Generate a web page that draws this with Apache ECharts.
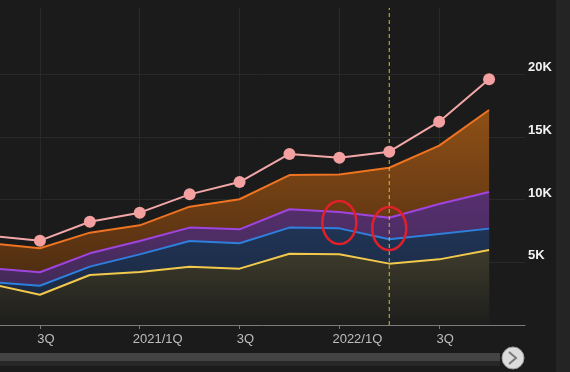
<!DOCTYPE html>
<html>
<head>
<meta charset="utf-8">
<script src="https://cdn.jsdelivr.net/npm/echarts@6/dist/echarts.min.js"></script>
<style>
html,body{margin:0;padding:0;background:#1b1b1b;}
#c{width:570px;height:372px;}
</style>
</head>
<body>
<div id="c"></div>
<script>
// quarters (index positions on the x axis)
const quarters = ['2020/2Q','2020/3Q','2020/4Q','2021/1Q','2021/2Q','2021/3Q','2021/4Q','2022/1Q','2022/2Q','2022/3Q','2022/4Q'];
// quarters that carry a tick label
const tickQuarters = ['2020/3Q','2021/1Q','2021/3Q','2022/1Q','2022/3Q'];
// cumulative tops of the stacked bands
const yellowTop = [3280, 2410, 3985, 4220, 4650, 4490, 5680, 5630, 4890, 5230, 5980];
const blueTop   = [3430, 3130, 4650, 5630, 6690, 6510, 7760, 7700, 6830, 7250, 7680];
const purpleTop = [4530, 4200, 5710, 6690, 7760, 7620, 9220, 9000, 8550, 9640, 10600];
const orangeTop = [6510, 6110, 7360, 7940, 9430, 10020, 11950, 12000, 12530, 14290, 17130];
// separate line with markers
const pinkLine  = [7120, 6720, 8230, 8950, 10410, 11390, 13630, 13330, 13810, 16200, 19580];
// y axis range and tick labels
const yMin = 0, yMax = 25260;
const yTickValues = [5000, 10000, 15000, 20000];
const yTickLabels = ['5K', '10K', '15K', '20K'];
// highlighted quarter (dashed line) and annotation circles
const markQuarter = '2022/2Q';
const annotQuarters = ['2022/1Q', '2022/2Q'];
const annotValues = [8170, 7690];

const chart = echarts.init(document.getElementById('c'), null, {renderer: 'canvas'});

const toPairs = arr => arr.map((v, i) => [i, v]);
const tickIdx = tickQuarters.map(q => quarters.indexOf(q));
const markIdx = quarters.indexOf(markQuarter);
const FONT = 'Liberation Sans, Arial, sans-serif';

function grad(stops) {
  return new echarts.graphic.LinearGradient(0, 0, 0, 1,
    stops.map(s => ({offset: s[0], color: s[1]})));
}

function areaSeries(name, data, lineColor, stops, z) {
  return {
    name: name,
    type: 'line',
    data: toPairs(data),
    symbol: 'none',
    showSymbol: false,
    lineStyle: {color: lineColor, width: 2},
    itemStyle: {color: lineColor},
    areaStyle: {color: grad(stops), opacity: 1},
    silent: true,
    z: z
  };
}

const option = {
  backgroundColor: '#1b1b1b',
  animation: false,
  grid: {left: 0, right: 45, top: 8, bottom: 47, containLabel: false},
  xAxis: {
    type: 'value',
    min: 0.2,
    max: 10.72,
    axisLine: {show: true, onZero: false, lineStyle: {color: '#7c7c7c', width: 1}},
    axisTick: {show: true, length: 4, customValues: tickIdx, lineStyle: {color: '#7c7c7c'}},
    splitLine: {show: true, lineStyle: {color: '#292929', width: 1}},
    axisLabel: {
      customValues: tickIdx,
      margin: 8,
      color: '#bdbdbd',
      fontSize: 13,
      fontFamily: FONT,
      formatter: function (v) {
        const q = quarters[Math.round(v)] || '';
        if (q.endsWith('1Q')) return '{w|' + q + '}';
        return '{n|' + q.split('/')[1] + '}';
      },
      rich: {
        w: {padding: [0, 0, 0, 36], color: '#bdbdbd', fontSize: 13, fontFamily: FONT},
        n: {padding: [0, 0, 0, 12], color: '#bdbdbd', fontSize: 13, fontFamily: FONT}
      }
    }
  },
  yAxis: {
    type: 'value',
    position: 'right',
    min: yMin,
    max: yMax,
    interval: 5000,
    axisLine: {show: false},
    axisTick: {show: false},
    splitLine: {
      show: true,
      lineStyle: {color: ['#292929', '#292929', '#292929', '#292929', '#292929', 'rgba(0,0,0,0)', 'rgba(0,0,0,0)'], width: 1}
    },
    axisLabel: {
      margin: 3,
      align: 'left',
      verticalAlign: 'bottom',
      color: '#f2f2f2',
      fontSize: 13,
      fontWeight: 'bold',
      fontFamily: FONT,
      formatter: function (v) {
        const i = yTickValues.indexOf(v);
        return i >= 0 ? yTickLabels[i] : '';
      }
    }
  },
  series: [
    areaSeries('D', orangeTop, '#ee7422', [[0, '#8e5016'], [0.6, '#5e3513'], [1, '#3a2410']], 2),
    areaSeries('C', purpleTop, '#a044e0', [[0, '#57306f'], [0.7, '#432a58'], [1, '#33233f']], 2),
    areaSeries('B', blueTop, '#2f7fdc', [[0, '#213455'], [0.7, '#1b2a44'], [1, '#182236']], 2),
    areaSeries('A', yellowTop, '#f2c94c', [[0, '#3e3c2c'], [1, '#1d1d1c']], 2),
    {
      name: 'mark',
      type: 'line',
      data: [[markIdx, yMin], [markIdx, yMax]],
      symbol: 'none',
      showSymbol: false,
      silent: true,
      lineStyle: {color: '#dcb935', width: 1, type: [4, 3]},
      itemStyle: {color: '#dcb935'},
      z: 4
    },
    {
      name: 'E',
      type: 'line',
      data: toPairs(pinkLine),
      symbol: 'circle',
      symbolSize: 12,
      showSymbol: true,
      lineStyle: {color: '#f2a8a8', width: 2},
      itemStyle: {color: '#f4a0a0'},
      silent: true,
      z: 5
    }
  ]
};

chart.setOption(option);

// annotation ellipses placed in data space, plus the scroll bar decoration
const ellipses = annotQuarters.map((q, k) => {
  const p = chart.convertToPixel({xAxisIndex: 0, yAxisIndex: 0}, [quarters.indexOf(q), annotValues[k]]);
  return {
    type: 'ellipse',
    shape: {cx: p[0], cy: p[1], rx: 17, ry: 21.5},
    style: {fill: 'none', stroke: '#e3202a', lineWidth: 2.5},
    z: 100, silent: true
  };
});

chart.setOption({
  graphic: [
    {type: 'rect', shape: {x: 556, y: 0, width: 14, height: 372}, style: {fill: '#242424'}, z: 1, silent: true},
    {type: 'rect', shape: {x: 0, y: 361, width: 500, height: 5}, style: {fill: '#272727'}, z: 1, silent: true},
    {type: 'rect', shape: {x: 0, y: 353, width: 500, height: 8}, style: {fill: '#434343'}, z: 2, silent: true},
    {type: 'circle', shape: {cx: 513, cy: 358, r: 11}, style: {fill: '#dcdcdc', stroke: '#9a9a9a', lineWidth: 1}, z: 3, silent: true},
    {type: 'polyline', shape: {points: [[509, 352], [516, 358], [509, 364]]}, style: {fill: 'none', stroke: '#7a7a7a', lineWidth: 2}, z: 4, silent: true}
  ].concat(ellipses)
});
</script>
</body>
</html>
